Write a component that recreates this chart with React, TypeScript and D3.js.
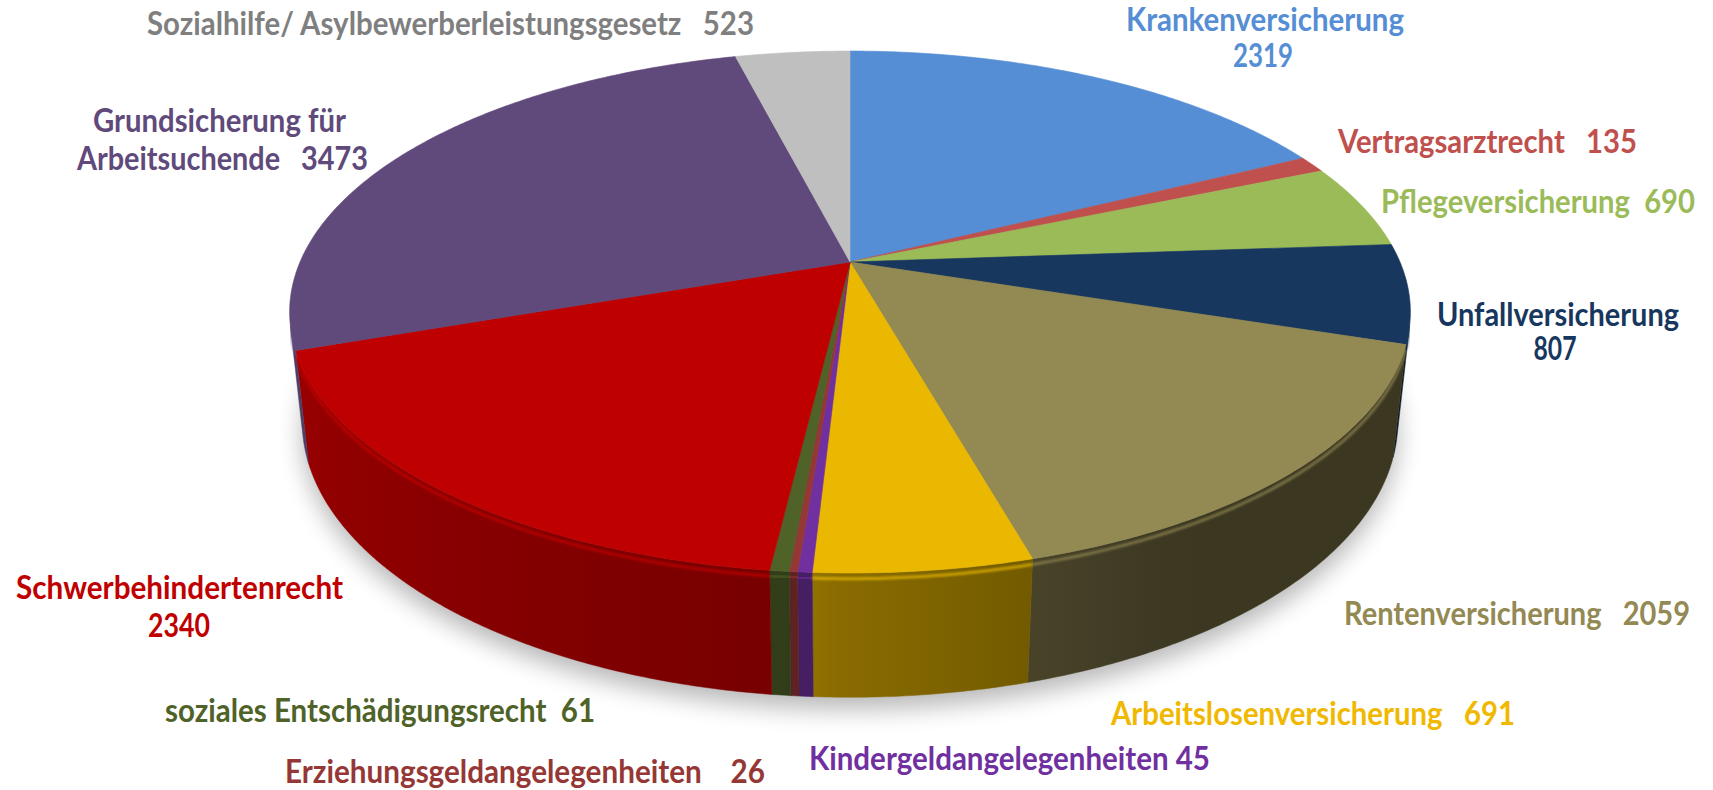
import React from 'react';
import * as d3 from 'd3';

// ---------- data ----------
const categories = [
  'Krankenversicherung',
  'Vertragsarztrecht',
  'Pflegeversicherung',
  'Unfallversicherung',
  'Rentenversicherung',
  'Arbeitslosenversicherung',
  'Kindergeldangelegenheiten',
  'Erziehungsgeldangelegenheiten',
  'soziales Entschädigungsrecht',
  'Schwerbehindertenrecht',
  'Grundsicherung für\nArbeitsuchende',
  'Sozialhilfe/ Asylbewerberleistungsgesetz',
];
const values = [2319, 135, 690, 807, 2059, 691, 45, 26, 61, 2340, 3473, 523];
const separators = ['\n', '   ', '  ', '\n', '   ', '   ', ' ', '    ', '  ', '\n', '   ', '   '];
const sliceColors = ['#558ED5', '#C0504D', '#9BBB59', '#17375E', '#938953', '#EAB800', '#7030A0', '#953735', '#4F6228', '#BE0000', '#604A7B', '#BFBFBF'];
const labelColors = ['#558ED5', '#C0504D', '#9BBB59', '#17375E', '#938953', '#F0B800', '#7030A0', '#953735', '#4F6228', '#C00000', '#604A7B', '#7F7F7F'];

// ---------- layout ----------
const W = 1713, H = 790;
const CX = 850, CY = 262, FOCAL = 2552, DIST = 4.64, PHI = (27.2 * Math.PI) / 180, DEPTH = 0.225;

type LineLayout = { x: number; y: number; w: number; anchor: 'start' | 'middle' };
const labelLayout: LineLayout[][] = [
  [{ x: 1265, y: 31, w: 278, anchor: 'middle' }, { x: 1263, y: 67, w: 60, anchor: 'middle' }],
  [{ x: 1338, y: 153, w: 299, anchor: 'start' }],
  [{ x: 1381, y: 213, w: 314, anchor: 'start' }],
  [{ x: 1558, y: 326, w: 242, anchor: 'middle' }, { x: 1555, y: 360, w: 43, anchor: 'middle' }],
  [{ x: 1344, y: 625, w: 346, anchor: 'start' }],
  [{ x: 1111, y: 725, w: 404, anchor: 'start' }],
  [{ x: 809, y: 770, w: 401, anchor: 'start' }],
  [{ x: 285, y: 783, w: 480, anchor: 'start' }],
  [{ x: 165, y: 722, w: 430, anchor: 'start' }],
  [{ x: 179.5, y: 599, w: 327, anchor: 'middle' }, { x: 179, y: 637, w: 62, anchor: 'middle' }],
  [{ x: 219.5, y: 132, w: 253, anchor: 'middle' }, { x: 222.5, y: 170, w: 291, anchor: 'middle' }],
  [{ x: 147, y: 35, w: 607, anchor: 'start' }],
];

function proj(t: number, r: number, y: number): [number, number] {
  const X = r * Math.sin(t);
  const Z = r * Math.cos(t);
  const yc = Z * Math.sin(PHI) + y * Math.cos(PHI);
  const d = DIST + Z * Math.cos(PHI) - y * Math.sin(PHI);
  return [CX + (FOCAL * X) / d, CY - (FOCAL * yc) / d];
}

const deg = Math.PI / 180;
const T0 = Math.acos(-1 / (DIST * Math.cos(PHI)));
const T1 = 2 * Math.PI - T0;

function shadeFactor(t: number) {
  const a = t / deg;
  if (a < 150) return 0.4;
  if (a < 183) return 0.4 + ((a - 150) / 33) * 0.2;
  return 0.62 + ((Math.min(a, 256) - 183) / 73) * 0.2;
}
function scaleColor(c: string, f: number) {
  const r = d3.rgb(c);
  return d3.rgb(Math.min(255, r.r * f), Math.min(255, r.g * f), Math.min(255, r.b * f)).formatHex();
}

const line = d3.line<[number, number]>();

function arcPoints(a0: number, a1: number, r: number, y: number) {
  const n = Math.max(2, Math.ceil((a1 - a0) / (0.5 * deg)));
  const pts: [number, number][] = [];
  for (let i = 0; i <= n; i++) pts.push(proj(a0 + ((a1 - a0) * i) / n, r, y));
  return pts;
}

export default function App() {
  const arcs = d3.pie<number>().sort(null)(values);

  const shadowPath = line(arcPoints(0, 2 * Math.PI, 1, -DEPTH))! + 'Z';

  const grads: JSX.Element[] = [];
  const walls: JSX.Element[] = [];
  const rims: JSX.Element[] = [];
  arcs.forEach((a, i) => {
    const s = Math.max(a.startAngle, T0);
    const e = Math.min(a.endAngle, T1);
    if (e <= s) return;
    const top = arcPoints(s, e, 1, 0);
    const bottom = arcPoints(s, e, 1, -DEPTH).reverse();
    const xs = proj(s, 1, 0)[0];
    const xe = proj(e, 1, 0)[0];
    const nStops = 10;
    const stops: JSX.Element[] = [];
    for (let k = 0; k <= nStops; k++) {
      const u = s + ((e - s) * k) / nStops;
      const x = proj(u, 1, 0)[0];
      const off = Math.abs(xe - xs) < 0.01 ? k / nStops : (x - xs) / (xe - xs);
      stops.push(<stop key={k} offset={Math.max(0, Math.min(1, off))} stopColor={scaleColor(sliceColors[i], shadeFactor(u))} />);
    }
    grads.push(
      <linearGradient key={`g${i}`} id={`wg${i}`} gradientUnits="userSpaceOnUse" x1={xs} y1={0} x2={xe === xs ? xs + 1 : xe} y2={0}>
        {stops}
      </linearGradient>
    );
    walls.push(<path key={`w${i}`} d={line([...top, ...bottom])! + 'Z'} fill={`url(#wg${i})`} stroke={`url(#wg${i})`} strokeWidth={0.5} />);
    rims.push(
      <path key={`r${i}`} d={line(arcPoints(s, e, 1, -0.01))!} fill="none"
        stroke={scaleColor(sliceColors[i], 1.1)} strokeWidth={3} opacity={0.6} filter="url(#soft)" />
    );
  });

  const tops = arcs.map((a, i) => {
    const pts = [proj(0, 0, 0), ...arcPoints(a.startAngle, a.endAngle, 1, 0)];
    return <path key={`t${i}`} d={line(pts)! + 'Z'} fill={sliceColors[i]} stroke={sliceColors[i]} strokeWidth={0.6} strokeLinejoin="round" />;
  });

  const labels = categories.map((c, i) => {
    const lines = (c + separators[i] + values[i]).split('\n');
    return lines.map((txt, j) => {
      const L = labelLayout[i][j];
      return (
        <text key={`l${i}-${j}`} x={L.x} y={L.y} textAnchor={L.anchor} textLength={L.w} lengthAdjust="spacingAndGlyphs"
          fill={labelColors[i]} style={{ whiteSpace: 'pre' }}>
          {txt}
        </text>
      );
    });
  });

  return (
    <svg width={W} height={H} viewBox={`0 0 ${W} ${H}`} style={{ position: 'absolute', left: 0, top: 0, background: '#fff' }}
      fontFamily="Lato, 'Open Sans', sans-serif" fontWeight={700} fontSize={32}>
      <defs>
        <filter id="shadow" x="-20%" y="-20%" width="140%" height="140%">
          <feGaussianBlur stdDeviation="12" />
        </filter>
        <filter id="soft" x="-5%" y="-50%" width="110%" height="200%">
          <feGaussianBlur stdDeviation="0.8" />
        </filter>
        {grads}
      </defs>
      <path d={shadowPath} fill="#000" opacity={0.28} transform="translate(0,12)" filter="url(#shadow)" />
      <g>{walls}</g>
      <g>{rims}</g>
      <g>{tops}</g>
      <g>{labels}</g>
    </svg>
  );
}
